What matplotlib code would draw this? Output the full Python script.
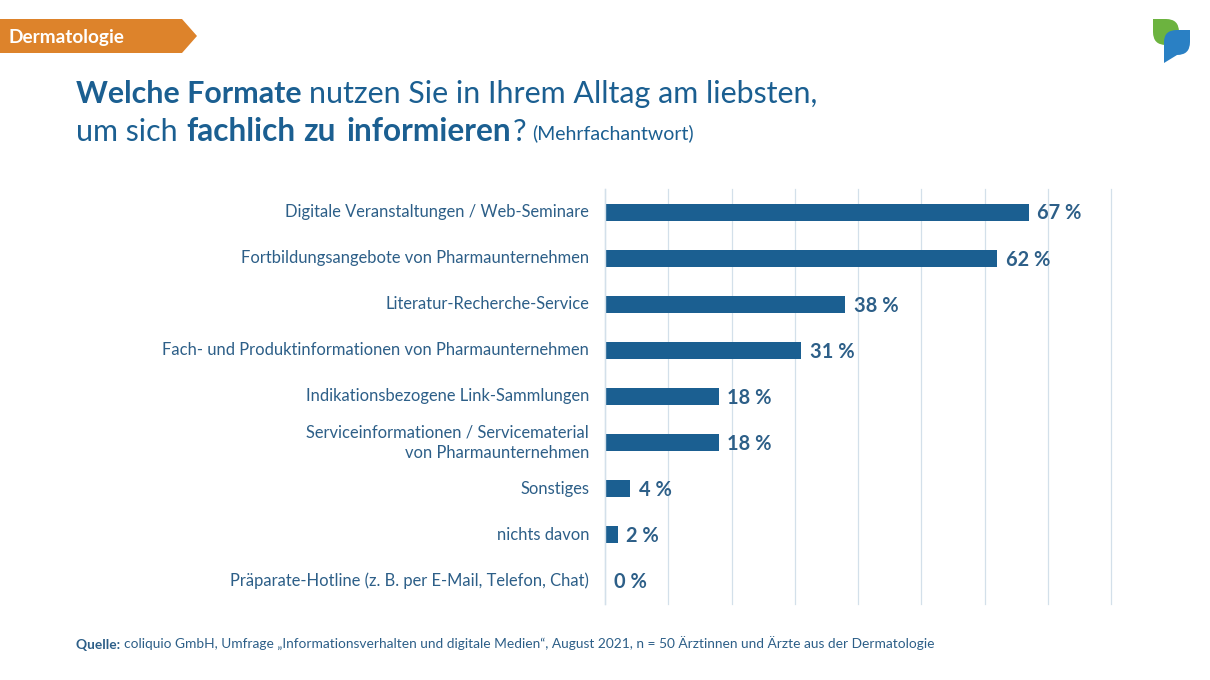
import matplotlib
matplotlib.use("Agg")
import matplotlib.pyplot as plt
from matplotlib.patches import Polygon, PathPatch
from matplotlib.path import Path

plt.rcParams['font.family'] = ['Lato', 'DejaVu Sans']

BLUE = '#1b5f91'
TXT = '#2d5f88'
GRID = '#d3e0ea'

categories = [
    'Digitale Veranstaltungen / Web-Seminare',
    'Fortbildungsangebote von Pharmaunternehmen',
    'Literatur-Recherche-Service',
    'Fach- und Produktinformationen von Pharmaunternehmen',
    'Indikationsbezogene Link-Sammlungen',
    'Serviceinformationen / Servicematerial\nvon Pharmaunternehmen',
    'Sonstiges',
    'nichts davon',
    'Präparate-Hotline (z. B. per E-Mail, Telefon, Chat)',
]
values = [67, 62, 38, 31, 18, 18, 4, 2, 0]
ticks = [0, 10, 20, 30, 40, 50, 60, 70, 80]

W, H = 1210, 680
fig = plt.figure(figsize=(W / 100, H / 100), dpi=100)

# overlay in pixel coords for banner, logo and text
bg = fig.add_axes([0, 0, 1, 1])
bg.set_xlim(0, W)
bg.set_ylim(H, 0)
bg.axis('off')

ax = fig.add_axes([605 / W, 1 - 604 / H, (1111 - 605) / W, (604 - 189) / H])
ax.patch.set_alpha(0)
ypos = list(range(len(categories)))
ax.barh(ypos, values, height=0.37, color=BLUE, zorder=3)
ax.axvline(0, color=GRID, lw=1, zorder=4, clip_on=False)
ax.set_xlim(0, 80)
ax.set_ylim(8.5, -0.5)
ax.set_xticks(ticks)
ax.set_xticklabels([])
ax.set_yticks(ypos)
ax.set_yticklabels(categories, fontsize=11.9, color=TXT, linespacing=1.35, va='center')
ax.tick_params(length=0, pad=11.5)
ax.grid(axis='x', color=GRID, lw=0.9, clip_on=False)
ax.set_axisbelow(True)
for s in ax.spines.values():
    s.set_visible(False)
for y, v in zip(ypos, values):
    ax.annotate(f'{v} %', (v + 1.35, y), xytext=(0, -1), textcoords='offset points',
                va='center', ha='left', fontsize=14.4, fontweight='bold', color=TXT)

bg.add_patch(Polygon([(0, 19), (182, 19), (197, 36), (182, 53), (0, 53)], closed=True, fc='#dd832b', ec='none'))
bg.text(9, 37, 'Dermatologie', color='white', fontsize=13.7, fontweight='bold', va='center')

leaf = Path([(1153, 19), (1166, 19), (1179, 19), (1179, 32), (1179, 45), (1166, 45), (1153, 45), (1153, 32), (1153, 19)],
            [Path.MOVETO, Path.LINETO, Path.CURVE3, Path.CURVE3, Path.CURVE3, Path.CURVE3, Path.CURVE3, Path.CURVE3, Path.CLOSEPOLY])
bg.add_patch(PathPatch(leaf, fc='#6cb33f', ec='none'))
drop = Path([(1190, 30), (1190, 42), (1190, 55), (1177, 55), (1164, 63), (1164, 42), (1164, 30), (1177, 30), (1190, 30)],
            [Path.MOVETO, Path.LINETO, Path.CURVE3, Path.CURVE3, Path.LINETO, Path.LINETO, Path.CURVE3, Path.CURVE3, Path.CLOSEPOLY])
bg.add_patch(PathPatch(drop, fc='#2a80c4', ec='none'))


def runs(x, y, parts):
    # draw text pieces one after the other on the same baseline
    r = fig.canvas.get_renderer()
    for s, size, weight in parts:
        t = bg.text(x, y, s, fontsize=size, fontweight=weight, color=TXT if size < 12 else BLUE, va='baseline')
        x += t.get_window_extent(r).width


runs(76, 103, [('Welche Formate ', 21.9, 'bold'), ('nutzen Sie in Ihrem Alltag am liebsten,', 21.9, 'normal')])
bg.text(76, 141, 'um sich', fontsize=21.9, color=BLUE, va='baseline')
bg.text(186, 141, 'fachlich', fontsize=22.8, fontweight='bold', color=BLUE, va='baseline')
bg.text(303, 141, 'zu', fontsize=22.8, fontweight='bold', color=BLUE, va='baseline')
bg.text(347, 141, 'informieren', fontsize=22.8, fontweight='bold', color=BLUE, va='baseline')
bg.text(513, 141, '?', fontsize=21.9, color=BLUE, va='baseline')
bg.text(532, 139, '(Mehrfachantwort)', fontsize=14.05, color=BLUE, va='baseline')
runs(76, 649, [('Quelle: ', 9.95, 'bold'),
               ('coliquio GmbH, Umfrage „Informationsverhalten und digitale Medien“, August 2021, n = 50 Ärztinnen und Ärzte aus der Dermatologie', 9.95, 'normal')])

fig.savefig('out.png', dpi=100)
